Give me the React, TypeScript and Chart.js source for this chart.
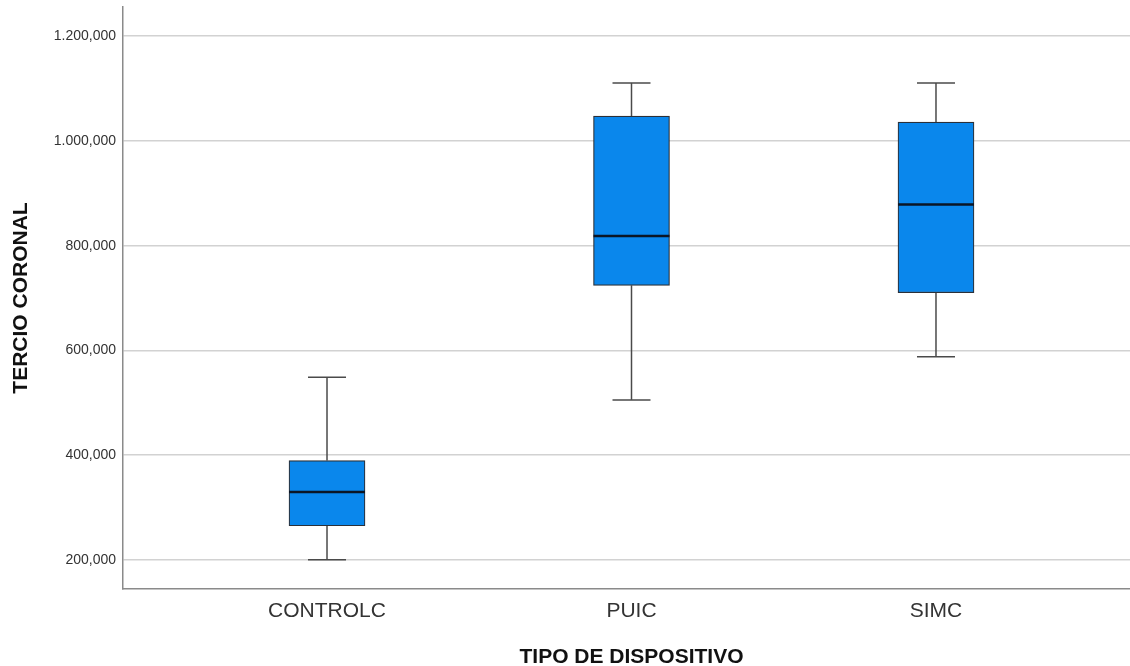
import React, { useEffect, useRef } from 'react';
import { Chart, registerables } from 'chart.js';

Chart.register(...registerables);

const categories = ['CONTROLC', 'PUIC', 'SIMC'];
const minValues = [200.6, 505.6, 588.2];
const q1Values = [265.4, 724.3, 710.2];
const medianValues = [329.6, 818.3, 878.7];
const q3Values = [389.9, 1047.1, 1035.7];
const maxValues = [548.9, 1110.6, 1110.6];
const yTickValues = [200, 400, 600, 800, 1000, 1200];

const fmt = (v: number) => {
  const [i, d] = v.toFixed(3).split('.');
  return i.replace(/\B(?=(\d{3})+(?!\d))/g, '.') + ',' + d;
};

const boxPlugin = {
  id: 'boxWhiskers',
  beforeDatasetsDraw(chart: any) {
    const ctx = chart.ctx;
    const y = chart.scales.y;
    const meta = chart.getDatasetMeta(0);
    ctx.save();
    ctx.strokeStyle = '#4a4a4a';
    ctx.lineWidth = 1.5;
    meta.data.forEach((el: any, i: number) => {
      const x = el.x;
      const capHalf = el.width / 4;
      const pts: [number, number][] = [
        [q3Values[i], maxValues[i]],
        [q1Values[i], minValues[i]],
      ];
      pts.forEach(([a, b]) => {
        ctx.beginPath();
        ctx.moveTo(x, y.getPixelForValue(a));
        ctx.lineTo(x, y.getPixelForValue(b));
        ctx.stroke();
        ctx.beginPath();
        ctx.moveTo(x - capHalf, y.getPixelForValue(b));
        ctx.lineTo(x + capHalf, y.getPixelForValue(b));
        ctx.stroke();
      });
    });
    ctx.restore();
  },
  afterDatasetsDraw(chart: any) {
    const ctx = chart.ctx;
    const y = chart.scales.y;
    const meta = chart.getDatasetMeta(0);
    ctx.save();
    ctx.strokeStyle = '#0b1524';
    ctx.lineWidth = 2.5;
    meta.data.forEach((el: any, i: number) => {
      const py = y.getPixelForValue(medianValues[i]);
      ctx.beginPath();
      ctx.moveTo(el.x - el.width / 2, py);
      ctx.lineTo(el.x + el.width / 2, py);
      ctx.stroke();
    });
    ctx.restore();
  },
};

export default function App() {
  const ref = useRef<HTMLCanvasElement | null>(null);
  useEffect(() => {
    if (!ref.current) return;
    const chart = new Chart(ref.current, {
      type: 'bar',
      data: {
        datasets: [
          {
            data: categories.map((_, i) => ({ x: i, y: [q1Values[i], q3Values[i]] })) as any,
            backgroundColor: '#0a87ec',
            borderColor: '#2b3038',
            borderWidth: 1.2,
            borderSkipped: false,
            barThickness: 76,
          },
        ],
      },
      options: {
        animation: false,
        responsive: false,
        maintainAspectRatio: false,
        layout: { padding: { top: 0, left: 0, right: 0, bottom: 0 } },
        plugins: { legend: { display: false }, tooltip: { enabled: false } },
        scales: {
          x: {
            type: 'linear',
            offset: false,
            min: -0.67,
            max: 2.67,
            afterBuildTicks: (scale: any) => {
              scale.ticks = categories.map((_, i) => ({ value: i }));
            },
            afterFit: (scale: any) => {
              scale.height = 77;
              scale.paddingLeft = 0;
              scale.paddingRight = 0;
            },
            grid: { display: false, drawTicks: false },
            border: { display: true, color: '#8a8a8a', width: 1.5 },
            ticks: {
              padding: 10,
              color: '#333',
              font: { family: 'Liberation Sans', size: 21 },
              callback: (v: any) => categories[v as number] ?? '',
              maxRotation: 0,
              autoSkip: false,
            },
            title: {
              display: true,
              text: 'TIPO DE DISPOSITIVO',
              color: '#111',
              font: { family: 'Liberation Sans', size: 21, weight: 'bold', lineHeight: 1 },
              padding: { top: 0, bottom: -2 },
            },
          },
          y: {
            type: 'linear',
            min: 144.7,
            max: 1255.5,
            afterBuildTicks: (scale: any) => {
              scale.ticks = yTickValues.map((v) => ({ value: v }));
            },
            afterFit: (scale: any) => {
              scale.width = 123;
              scale.paddingTop = 7;
              scale.paddingBottom = 0;
            },
            grid: { color: '#d2d2d2', lineWidth: 1.5, drawTicks: false },
            border: { display: true, color: '#8a8a8a', width: 1.5 },
            ticks: {
              padding: 7,
              color: '#333',
              font: { family: 'Liberation Sans', size: 14 },
              callback: (v: any) => fmt(Number(v)),
            },
            title: {
              display: true,
              text: 'TERCIO CORONAL',
              color: '#111',
              font: { family: 'Liberation Sans', size: 21, weight: 'bold', lineHeight: 1.2 },
              padding: { top: 9, bottom: 0 },
            },
          },
        },
      },
      plugins: [boxPlugin],
    });
    return () => chart.destroy();
  }, []);
  return (
    <div style={{ position: 'fixed', left: 0, top: 0, width: 1130, height: 666, overflow: 'hidden', background: '#fff' }}>
      <canvas ref={ref} width={1140} height={666} style={{ width: 1140, height: 666, display: 'block' }} />
    </div>
  );
}
